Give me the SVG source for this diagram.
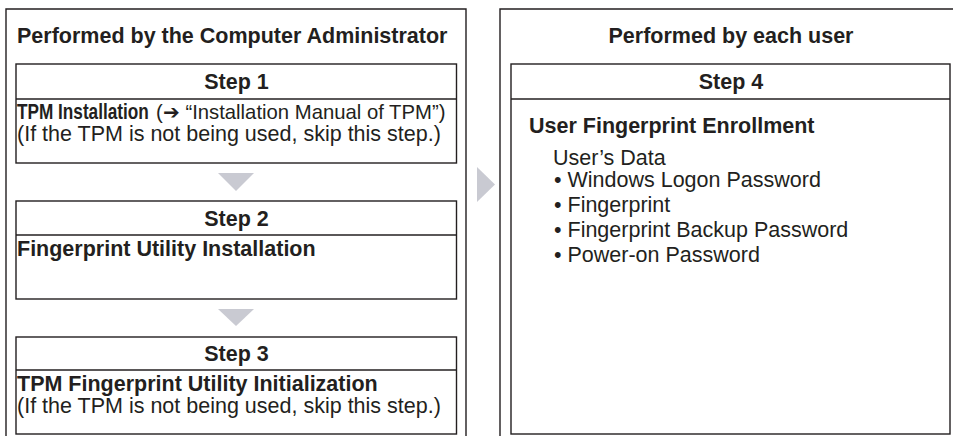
<svg xmlns="http://www.w3.org/2000/svg" width="953" height="436" viewBox="0 0 953 436">
<style>
text{font-family:"Liberation Sans",Arial,sans-serif;font-size:21.5px;fill:#231f20}
.b{font-weight:bold}
.c{text-anchor:middle}
.ln{fill:none;stroke:#231f20;stroke-width:1.4}
.tri{fill:#c9cad2}
</style>
<rect width="953" height="436" fill="#fff"/>
<g id="admin-panel">
<path class="ln" d="M6,436V9H466V436"/>
<text class="b" x="17" y="43">Performed by the Computer Administrator</text>
</g>
<g id="user-panel">
<path class="ln" d="M500,436V9H955"/>
<text class="b c" x="731" y="43">Performed by each user</text>
</g>
<g id="step1">
<rect class="ln" x="16" y="64" width="440.5" height="99"/>
<line class="ln" x1="16" y1="99" x2="456.5" y2="99"/>
<text class="b c" x="236.5" y="89">Step 1</text>
<text class="b" transform="translate(17,119) scale(0.8,1)">TPM Installation</text>
<text x="156" y="119" style="font-size:20.3px">(➔ “Installation Manual of TPM”)</text>
<text x="17" y="141">(If the TPM is not being used, skip this step.)</text>
</g>
<g id="step2">
<rect class="ln" x="16" y="201" width="440.5" height="98"/>
<line class="ln" x1="16" y1="235" x2="456.5" y2="235"/>
<text class="b c" x="236.5" y="226">Step 2</text>
<text class="b" x="17" y="256">Fingerprint Utility Installation</text>
</g>
<g id="step3">
<rect class="ln" x="16" y="337" width="440.5" height="97"/>
<line class="ln" x1="16" y1="370" x2="456.5" y2="370"/>
<text class="b c" x="236.5" y="361">Step 3</text>
<text class="b" x="17" y="391">TPM Fingerprint Utility Initialization</text>
<text x="17" y="413">(If the TPM is not being used, skip this step.)</text>
</g>
<g id="step4">
<rect class="ln" x="511" y="64" width="439" height="370"/>
<line class="ln" x1="511" y1="99" x2="950" y2="99"/>
<text class="b c" x="731" y="89">Step 4</text>
<text class="b" x="529" y="133">User Fingerprint Enrollment</text>
<text x="553" y="165">User’s Data</text>
<text x="554" y="187">• Windows Logon Password</text>
<text x="554" y="212">• Fingerprint</text>
<text x="554" y="237">• Fingerprint Backup Password</text>
<text x="554" y="262">• Power-on Password</text>
</g>
<g id="connectors">
<polygon class="tri" points="218,173 254,173 236,191"/>
<polygon class="tri" points="218,309 254,309 236,326"/>
<polygon class="tri" points="477,167 477,202 495,184.5"/>
</g>
</svg>
